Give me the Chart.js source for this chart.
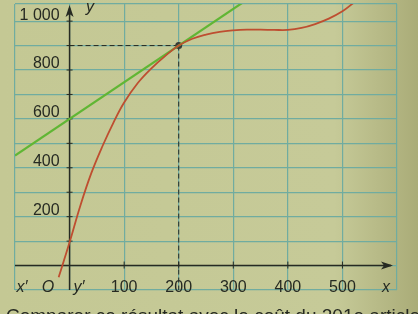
<!DOCTYPE html>
<html>
<head>
<meta charset="utf-8">
<script src="https://cdn.jsdelivr.net/npm/chart.js@4/dist/chart.umd.min.js"></script>
<style>
  html, body { margin: 0; padding: 0; background: #c3c690; }
  #wrap { width: 418px; height: 314px; position: relative; }
</style>
</head>
<body>
<div id="wrap"><canvas id="graph" width="418" height="314"></canvas></div>
<script>
// courbe rouge
const curveX = [-20, 0, 20, 40, 60, 80, 100, 125, 150, 175, 200, 225, 250, 275, 300, 325, 350, 375, 400, 425, 450, 475, 500, 520];
const curveY = [-48, 95, 247, 379, 487, 583, 667, 747, 807, 857, 900, 928, 945, 956, 962, 965, 965, 964, 964, 972, 988, 1010, 1040, 1074];

// tangente verte
const tangentX = [-100, 320];
const tangentY = [450, 1080];

// point de contact
const pointX = [200];
const pointY = [900];

// graduations
const xTicks = [100, 200, 300, 400, 500];
const yTicks = [200, 400, 600, 800, 1000];
const yTickLabels = ['200', '400', '600', '800', '1 000'];

const toXY = (xs, ys) => xs.map((x, i) => ({ x: x, y: ys[i] }));

const INK = 'rgb(38,42,34)';
const FONT = '16px "Liberation Sans", Arial, sans-serif';

// fond + axes + textes dessinés avec les échelles du graphique
const paperPlugin = {
    id: 'paper',
    beforeDraw(chart) {
        const ctx = chart.ctx;
        const g = ctx.createLinearGradient(0, 0, 418, 0);
        g.addColorStop(0, 'rgb(196,200,148)');
        g.addColorStop(0.8, 'rgb(198,202,152)');
        g.addColorStop(1, 'rgb(170,172,120)');
        ctx.save();
        ctx.fillStyle = g;
        ctx.fillRect(0, 0, chart.width, chart.height);
        ctx.restore();
    },
    beforeDatasetsDraw(chart) {
        const ctx = chart.ctx;
        const xs = chart.scales.x, ys = chart.scales.y;
        const x0 = xs.getPixelForValue(0), y0 = ys.getPixelForValue(0);
        const area = chart.chartArea;
        ctx.save();

        // pointillés
        ctx.strokeStyle = INK;
        ctx.lineWidth = 1;
        ctx.setLineDash([5, 3]);
        const px = xs.getPixelForValue(pointX[0]), py = ys.getPixelForValue(pointY[0]);
        ctx.beginPath();
        ctx.moveTo(x0, py); ctx.lineTo(px, py);
        ctx.moveTo(px, py); ctx.lineTo(px, area.bottom);
        ctx.stroke();
        ctx.setLineDash([]);

        // axes
        ctx.lineWidth = 1.5;
        ctx.beginPath();
        ctx.moveTo(area.left, y0); ctx.lineTo(area.right - 6, y0);
        ctx.moveTo(x0, area.bottom); ctx.lineTo(x0, area.top + 4);
        ctx.stroke();
        // flèches
        ctx.fillStyle = INK;
        ctx.beginPath();
        ctx.moveTo(area.right - 4, y0);
        ctx.lineTo(area.right - 16, y0 - 4);
        ctx.lineTo(area.right - 13, y0);
        ctx.lineTo(area.right - 16, y0 + 4);
        ctx.closePath();
        ctx.fill();
        ctx.beginPath();
        ctx.moveTo(x0, area.top + 1);
        ctx.lineTo(x0 - 4, area.top + 13);
        ctx.lineTo(x0, area.top + 10);
        ctx.lineTo(x0 + 4, area.top + 13);
        ctx.closePath();
        ctx.fill();

        // petites graduations
        ctx.lineWidth = 1;
        ctx.beginPath();
        for (let v = 100; v <= 1000; v += 100) {
            const y = ys.getPixelForValue(v);
            ctx.moveTo(x0 - 3, y); ctx.lineTo(x0 + 3, y);
        }
        xTicks.forEach(v => {
            const x = xs.getPixelForValue(v);
            ctx.moveTo(x, y0 - 4); ctx.lineTo(x, y0 + 3);
        });
        ctx.stroke();
        ctx.restore();
    },
    afterDraw(chart) {
        const ctx = chart.ctx;
        const xs = chart.scales.x, ys = chart.scales.y;
        const x0 = xs.getPixelForValue(0), y0 = ys.getPixelForValue(0);
        ctx.save();
        ctx.fillStyle = INK;
        ctx.font = FONT;
        ctx.textBaseline = 'middle';

        ctx.textAlign = 'right';
        yTicks.forEach((v, i) => {
            ctx.fillText(yTickLabels[i], x0 - 10, ys.getPixelForValue(v) - 6);
        });

        ctx.textAlign = 'center';
        xTicks.forEach(v => {
            ctx.fillText(String(v), xs.getPixelForValue(v), y0 + 22);
        });

        ctx.font = 'italic ' + FONT;
        ctx.fillText('x', 386, y0 + 22);
        ctx.fillText('x′', 22, y0 + 22);
        ctx.fillText('O', 48, y0 + 22);
        ctx.fillText('y′', 79, y0 + 22);
        ctx.fillText('y', 90, 8);

        // début de la consigne sous la figure (coupée)
        ctx.font = '19px "Liberation Sans", Arial, sans-serif';
        ctx.textAlign = 'left';
        ctx.textBaseline = 'alphabetic';
        ctx.fillText('Comparer ce résultat avec le coût du 201e article', 6, 322);
        ctx.restore();
    }
};

new Chart(document.getElementById('graph'), {
    type: 'scatter',
    plugins: [paperPlugin],
    data: {
        datasets: [
            {
                data: toXY(curveX, curveY),
                showLine: true,
                borderColor: 'rgb(190,78,48)',
                borderWidth: 1.8,
                pointRadius: 0,
                tension: 0.4
            },
            {
                data: toXY(tangentX, tangentY),
                showLine: true,
                borderColor: 'rgb(96,182,52)',
                borderWidth: 2.2,
                pointRadius: 0
            },
            {
                data: toXY(pointX, pointY),
                pointRadius: 3.5,
                pointBackgroundColor: 'rgb(55,58,55)',
                pointBorderWidth: 0
            }
        ]
    },
    options: {
        responsive: false,
        animation: false,
        events: [],
        layout: { padding: { left: 15, right: 21, top: 4, bottom: 24 } },
        plugins: { legend: { display: false }, tooltip: { enabled: false } },
        scales: {
            x: {
                type: 'linear', min: -100, max: 600,
                ticks: { display: false, stepSize: 100 },
                grid: { color: 'rgb(112,172,160)', lineWidth: 1.2, drawTicks: false },
                border: { display: false }
            },
            y: {
                type: 'linear', min: -100, max: 1070,
                ticks: { display: false, stepSize: 100 },
                grid: { color: 'rgb(112,172,160)', lineWidth: 1.2, drawTicks: false },
                border: { display: false }
            }
        }
    }
});
</script>
</body>
</html>
